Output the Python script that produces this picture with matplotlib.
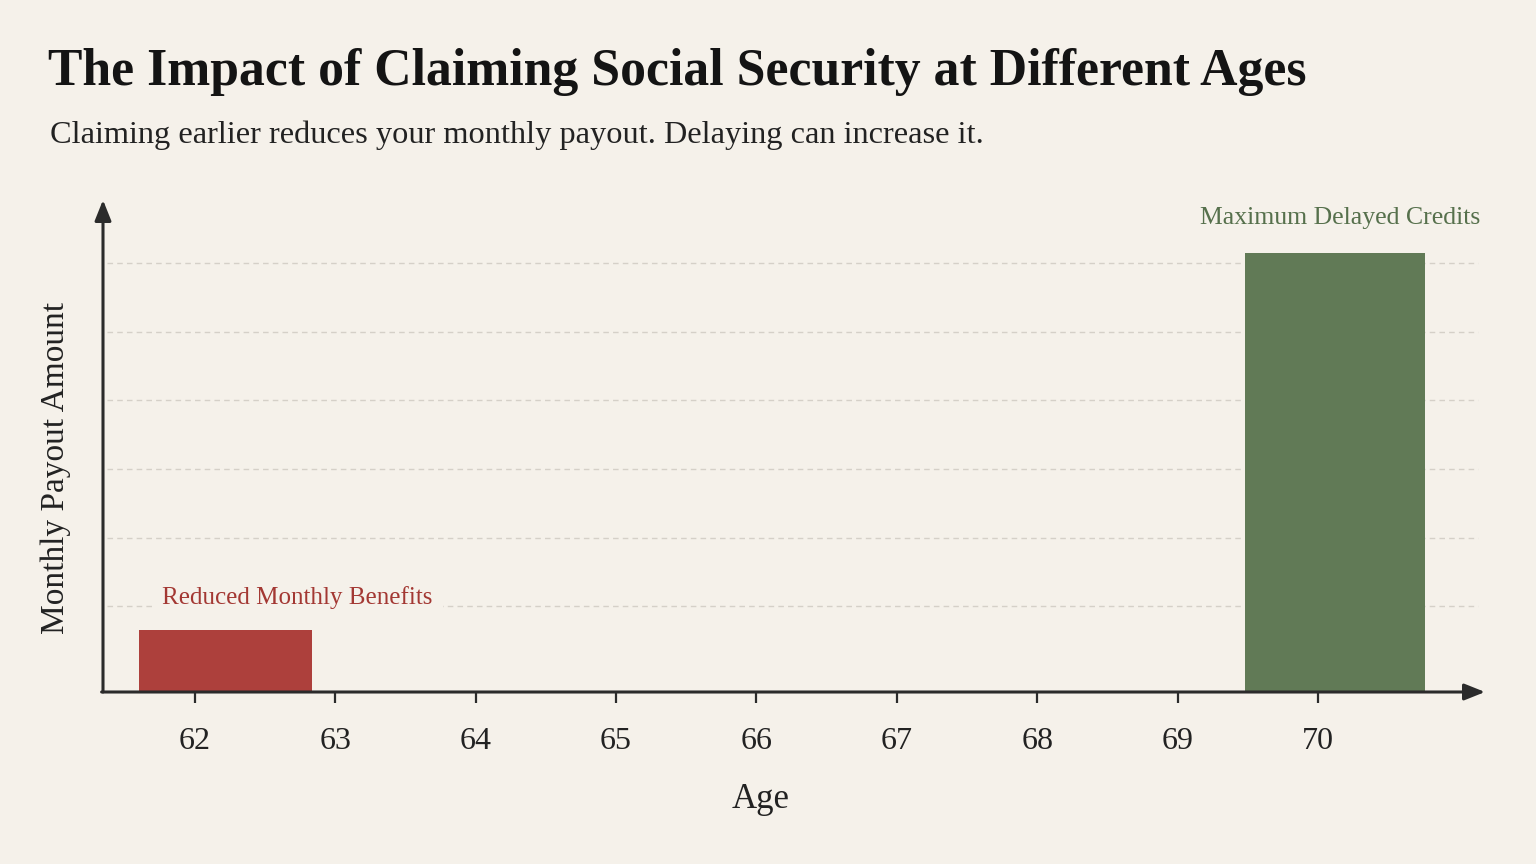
import matplotlib
matplotlib.use("Agg")
import matplotlib.pyplot as plt

# Data (payout in grid units, bottom of axis = 0)
ages = [62, 63, 64, 65, 66, 67, 68, 69, 70]
bar_ages = [62, 70]
bar_values = [0.90, 6.40]
bar_labels = ["Reduced Monthly Benefits", "Maximum Delayed Credits"]
grid_levels = [1.25, 2.25, 3.25, 4.25, 5.25, 6.25]

title = "The Impact of Claiming Social Security at Different Ages"
subtitle = "Claiming earlier reduces your monthly payout. Delaying can increase it."

bg = "#f5f1ea"
ink = "#2b2b2b"
bar_colors = ["#ad403c", "#617a56"]
label_colors = ["#a33833", "#56704c"]

plt.rcParams['font.family'] = ['Liberation Serif', 'DejaVu Serif']

fig = plt.figure(figsize=(15.36, 8.64), dpi=100, facecolor=bg)
ax = fig.add_axes([103 / 1536, (864 - 692) / 864, 1382 / 1536, 492 / 864])
ax.set_facecolor(bg)

ax.set_xlim(61.3446, 71.1897)
ax.set_ylim(0, 7.172)

# dashed guide lines
for lvl in grid_levels:
    ax.axhline(lvl, xmin=0.003, xmax=0.995, color="#d5d0c8", lw=1.0,
               ls=(0, (4, 3)), zorder=1)

# bars (offset/width as drawn in the reference)
offsets = [-0.40, -0.52]
widths = [1.23, 1.28]
for i in range(len(bar_ages)):
    ax.bar(bar_ages[i] + offsets[i], bar_values[i], width=widths[i], align='edge',
           color=bar_colors[i], zorder=2)

# annotations
ax.text(bar_ages[0] - 0.235, 1.283, bar_labels[0], color=label_colors[0],
        fontsize=18, ha='left', va='baseline', zorder=3,
        bbox=dict(boxstyle='square,pad=0.42', facecolor=bg, edgecolor='none'))
ax.text(bar_ages[1] + 0.155, 6.82, bar_labels[1], color=label_colors[1],
        fontsize=18.5, ha='center', va='baseline', zorder=3)

# axes drawn as arrows
for s in ax.spines.values():
    s.set_visible(False)
head = '-|>,head_length=1.25,head_width=0.5'
ax.annotate("", xy=(0, 1), xytext=(0, 0), xycoords='axes fraction',
            arrowprops=dict(arrowstyle=head, color=ink, lw=2.2,
                            shrinkA=0, shrinkB=0))
ax.annotate("", xy=(1, 0), xytext=(-0.001, 0), xycoords='axes fraction',
            arrowprops=dict(arrowstyle=head, color=ink, lw=2.2,
                            shrinkA=0, shrinkB=0))

ax.set_xticks(ages)
ax.set_xticklabels([str(a) for a in ages])
ax.tick_params(axis='x', direction='out', length=8, width=1.6, color=ink,
               labelsize=23, labelcolor="#222222", pad=17)
ax.set_yticks([])

ax.set_xlabel("Age", fontsize=25, color="#222222")
ax.xaxis.set_label_coords((761 - 103) / 1382, -(783 - 692) / 492)
fig.text(56 / 1536, (864 - 468) / 864, "Monthly Payout Amount", rotation=90,
         ha='center', va='center', fontsize=24, color="#222222")

fig.text(48 / 1536, (864 - 85) / 864, title, fontsize=37.3, fontweight='bold',
         color="#141414", ha='left', va='baseline')
fig.text(50 / 1536, (864 - 143) / 864, subtitle, fontsize=23.3,
         color="#222222", ha='left', va='baseline')

fig.savefig("out.png", dpi=100, facecolor=bg)
